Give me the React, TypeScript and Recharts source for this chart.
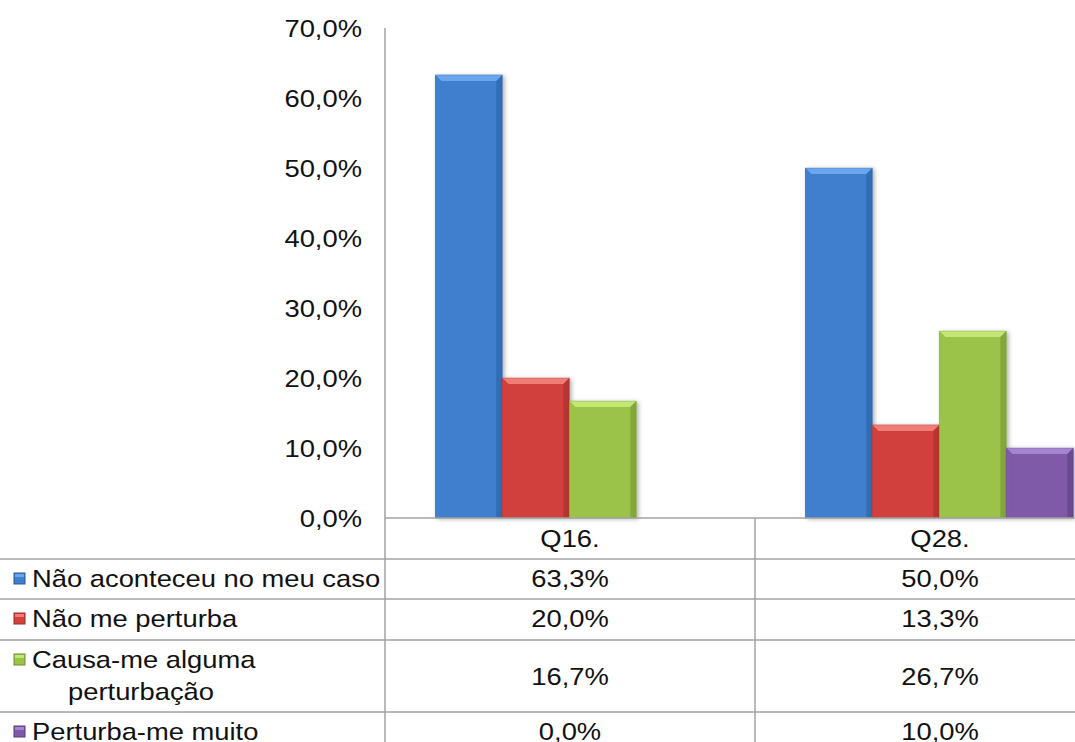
import { Bar, BarChart, XAxis, YAxis } from 'recharts';

const categories = ['Q16.', 'Q28.'];
const naoAconteceu = [0.633, 0.5];
const naoPerturba = [0.2, 0.133];
const causaAlguma = [0.167, 0.267];
const perturbaMuito = [0, 0.1];
const yTicks = [0, 0.1, 0.2, 0.3, 0.4, 0.5, 0.6, 0.7];

const series = [
  { key: 'a', name: ['Não aconteceu no meu caso'], values: naoAconteceu, color: '#3f7fcd', light: '#6aa6ee', dark: '#2a5d9c' },
  { key: 'b', name: ['Não me perturba'], values: naoPerturba, color: '#d2413d', light: '#f07c76', dark: '#9c2a27' },
  { key: 'c', name: ['Causa-me alguma', 'perturbação'], values: causaAlguma, color: '#9cc34a', light: '#c2e772', dark: '#6f8f2f' },
  { key: 'd', name: ['Perturba-me muito'], values: perturbaMuito, color: '#7e5aa8', light: '#a585cf', dark: '#573c7a' },
];

const data = categories.map((c, i) => {
  const row: Record<string, string | number> = { cat: c };
  series.forEach((s) => { row[s.key] = s.values[i]; });
  return row;
});

const SX = 1.14;
const FONT = '"Liberation Sans", Arial, sans-serif';
const GRID = '#a3a3a3';

// row layout of the data table, offsets below the x axis
const rowLines = [41, 81, 122, 194];
const headerBase = 29;
const valueBase = [69, 109, 167, 222];
const labelBase = [[69], [109], [150, 182], [222]];

function fmt(v: number) {
  return (v * 100).toFixed(1).replace('.', ',') + '%';
}

function SText({ x, y, anchor = 'start', children }: { x: number; y: number; anchor?: string; children: any }) {
  return (
    <text transform={`translate(${x} ${y}) scale(${SX} 1)`} textAnchor={anchor as any}
      fontFamily={FONT} fontSize={24} fill="#111">
      {children}
    </text>
  );
}

function YTick({ x, y, payload }: any) {
  return <SText x={x} y={y + 8.5} anchor="end">{fmt(payload.value)}</SText>;
}

function XTick({ x, y, payload, index }: any) {
  const half = payload.offset || 185;
  const left = x - half;
  const right = x + half;
  const ci = categories.indexOf(payload.value);
  return (
    <g>
      <line x1={left} x2={left} y1={y} y2={y + 300} stroke={GRID} strokeWidth={1.5} />
      {rowLines.map((r) => (
        <line key={r} x1={index === 0 ? 0 : left} x2={right} y1={y + r} y2={y + r} stroke={GRID} strokeWidth={1.5} />
      ))}
      <SText x={x} y={y + headerBase} anchor="middle">{payload.value}</SText>
      {series.map((s, i) => (
        <SText key={s.key} x={x} y={y + valueBase[i]} anchor="middle">{fmt(s.values[ci])}</SText>
      ))}
      {index === 0 && series.map((s, i) => (
        <g key={s.key}>
          <rect x={14} y={y + labelBase[i][0] - 14} width={11} height={11} fill={s.color} stroke={s.dark} strokeWidth={1} />
          <rect x={15} y={y + labelBase[i][0] - 13} width={9} height={3} fill={s.light} />
          {s.name.map((n, j) => (
            j === 0
              ? <SText key={j} x={32} y={y + labelBase[i][j]}>{n}</SText>
              : <SText key={j} x={141} y={y + labelBase[i][j]} anchor="middle">{n}</SText>
          ))}
        </g>
      ))}
    </g>
  );
}

function BevelBar(props: any) {
  const { x, y, width: w, height: h, fill, light, dark } = props;
  if (!h || h <= 0) return null;
  const b = Math.min(6, h / 2);
  return (
    <g filter="url(#barShadow)">
      <rect x={x} y={y} width={w} height={h} fill={fill} />
      <polygon points={`${x},${y} ${x + w},${y} ${x + w - b},${y + b} ${x + b},${y + b}`} fill={light} />
      <polygon points={`${x},${y} ${x + b},${y + b} ${x + b},${y + h} ${x},${y + h}`} fill={fill} opacity={0.85} />
      <polygon points={`${x + w},${y} ${x + w - b},${y + b} ${x + w - b},${y + h} ${x + w},${y + h}`} fill={dark} opacity={0.55} />
      <rect x={x} y={y} width={w} height={h} fill="none" stroke={dark} strokeOpacity={0.4} strokeWidth={0.8} />
    </g>
  );
}

export default function App() {
  return (
    <div style={{ position: 'absolute', left: 0, top: 0, width: 1075, height: 742, overflow: 'hidden', background: '#fff' }}>
      <svg width={0} height={0} style={{ position: 'absolute' }}>
        <defs>
          <filter id="barShadow" x="-20%" y="-20%" width="140%" height="140%">
            <feDropShadow dx={2} dy={1} stdDeviation={2} floodColor="#000" floodOpacity={0.3} />
          </filter>
        </defs>
      </svg>
      <BarChart width={1125} height={800} data={data} barCategoryGap="13.6%" barGap={0}
        margin={{ top: 28, right: 0, bottom: 0, left: 0 }}>
        <YAxis domain={[0, 0.7]} ticks={yTicks} width={385} tickSize={0} tickMargin={23} tickLine={false}
          axisLine={{ stroke: GRID, strokeWidth: 1.5 }} tick={<YTick />} interval={0} />
        <XAxis dataKey="cat" height={282} tickSize={0} tickMargin={0} tickLine={false}
          axisLine={{ stroke: GRID, strokeWidth: 1.5 }} tick={<XTick />} interval={0} />
        {series.map((s) => (
          <Bar key={s.key} dataKey={s.key} name={s.name.join(' ')} fill={s.color} isAnimationActive={false}
            shape={(p: any) => <BevelBar {...p} fill={s.color} light={s.light} dark={s.dark} />} />
        ))}
      </BarChart>
    </div>
  );
}
